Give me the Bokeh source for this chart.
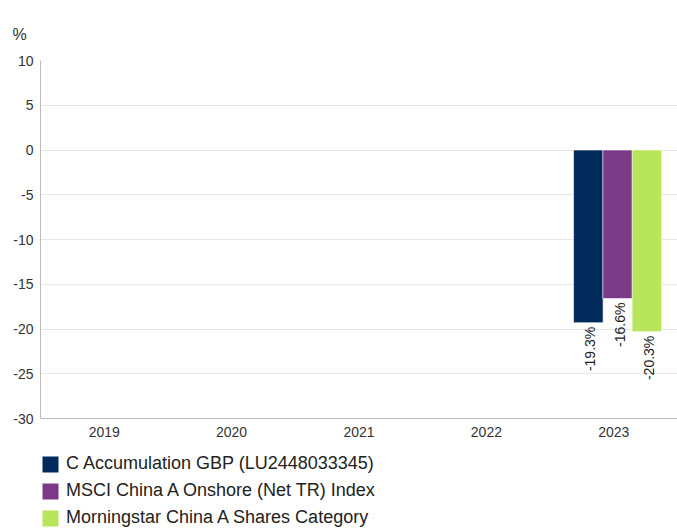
import math
from bokeh.plotting import figure
from bokeh.layouts import column
from bokeh.models import ColumnDataSource, Legend, LegendItem, FixedTicker, PrintfTickFormatter
from bokeh.transform import dodge
from bokeh.core.properties import value
from bokeh.embed import file_html
from bokeh.resources import INLINE

years = ["2019", "2020", "2021", "2022", "2023"]
fund = [None, None, None, None, -19.3]
index = [None, None, None, None, -16.6]
category = [None, None, None, None, -20.3]
series_names = ["C Accumulation GBP (LU2448033345)",
                "MSCI China A Onshore (Net TR) Index",
                "Morningstar China A Shares Category"]
colors = ["#022b5b", "#7b3a88", "#b8e55a"]
y_ticks = [10, 5, 0, -5, -10, -15, -20, -25, -30]

def nan(v):
    return [float("nan") if x is None else x for x in v]

def lab(v):
    return ["" if x is None else f"{x:.1f}%" for x in v]

src = ColumnDataSource(dict(
    year=years,
    fund=nan(fund), index=nan(index), category=nan(category),
    fund_l=lab(fund), index_l=lab(index), category_l=lab(category),
))

FONT = "Liberation Sans"
p = figure(x_range=years, y_range=(-30, 10), width=677, height=448,
           output_backend="svg", toolbar_location=None,
           min_border_left=40, min_border_right=0, min_border_top=60, min_border_bottom=30)
p.outline_line_color = None
p.background_fill_color = "white"

p.title.text = "%"
p.title.align = "left"
p.title.offset = -28
p.title.text_font = FONT
p.title.text_font_size = "16px"
p.title.text_font_style = "normal"
p.title.text_color = "#333333"
p.title.standoff = 32
p.title.vertical_align = "top"

offsets = [-0.2, 0.03, 0.26]
keys = ["fund", "index", "category"]
for k, off, c in zip(keys, offsets, colors):
    p.vbar(x=dodge("year", off, range=p.x_range), top=k, bottom=0, width=0.232,
           source=src, fill_color=c, line_color="white", line_alpha=0.6, line_width=1)
    p.text(x=dodge("year", off, range=p.x_range), y=k, text=k + "_l", source=src,
           angle=math.pi / 2, text_align="right", text_baseline="middle",
           x_offset=2, y_offset=4, text_font=value(FONT), text_font_size="14px",
           text_color="#222222")

p.yaxis.ticker = FixedTicker(ticks=y_ticks)
p.yaxis.formatter = PrintfTickFormatter(format="%d")
p.yaxis.major_tick_line_color = None
p.yaxis.major_tick_out = 0
p.yaxis.minor_tick_line_color = None
p.yaxis.axis_line_color = "#bbbbbb"
p.yaxis.major_label_text_font = FONT
p.yaxis.major_label_text_font_size = "14px"
p.yaxis.major_label_text_color = "#333333"
p.yaxis.major_label_standoff = 7
p.xaxis.major_tick_line_color = None
p.xaxis.major_tick_out = 0
p.xaxis.axis_line_color = "#bbbbbb"
p.xaxis.major_label_text_font = FONT
p.xaxis.major_label_text_font_size = "14px"
p.xaxis.major_label_text_color = "#333333"
p.xaxis.major_label_standoff = 8
p.xgrid.grid_line_color = None
p.ygrid.grid_line_color = "#e6e6e6"
p.ygrid.ticker = FixedTicker(ticks=y_ticks)

# legend panel (swatches come from hidden copies of the bar renderers)
lg = figure(x_range=years, y_range=(-30, 10), width=677, height=84,
            output_backend="svg", toolbar_location=None,
            x_axis_location=None, y_axis_location=None,
            min_border_left=0, min_border_right=0, min_border_top=0, min_border_bottom=0)
lg.outline_line_color = None
lg.grid.grid_line_color = None
swatches = []
for k, c in zip(keys, colors):
    r = lg.vbar(x="year", top=k, bottom=0, width=0.2, source=src,
                fill_color=c, line_color=None)
    r.visible = False
    swatches.append(r)
legend = Legend(items=[LegendItem(label=n, renderers=[r]) for n, r in zip(series_names, swatches)],
                location=(0, 4), orientation="vertical",
                glyph_width=20, glyph_height=20, spacing=6, padding=0, margin=0,
                label_standoff=6, label_text_font=FONT, label_text_font_size="18px",
                label_text_color="#222222", border_line_color=None,
                background_fill_alpha=0, label_height=20)
lg.add_layout(legend, "center")

layout = column(p, lg, spacing=0)
open("out.html", "w").write(file_html(layout, INLINE))
